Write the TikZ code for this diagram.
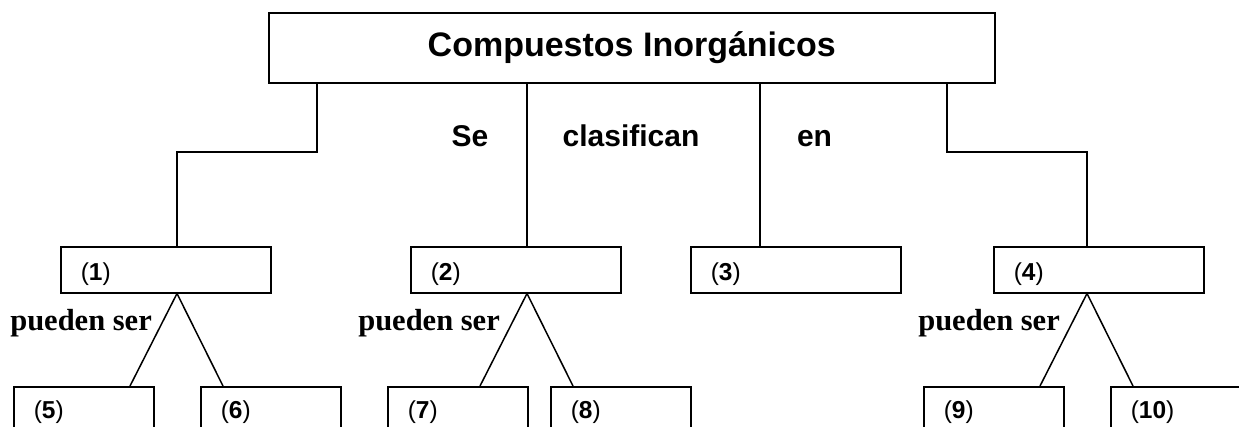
\documentclass[tikz,border=0pt]{standalone}
\usepackage{fontspec}
\setmainfont{Liberation Sans}
\newfontfamily\serifb{Liberation Serif}
\begin{document}
\begin{tikzpicture}[x=1pt,y=-1pt,
  box/.style={draw, line width=1.5pt, inner sep=0pt, anchor=north west},
  titlebox/.style={box, minimum width=726pt, minimum height=70pt,
    font=\fontsize{34}{40}\selectfont\bfseries},
  midbox/.style={box, minimum width=210pt, minimum height=46pt,
    inner xsep=20pt, text width=170pt, align=left,
    text height=22pt, text depth=0pt,
    font=\fontsize{24.5}{28}\selectfont},
  lowbox/.style={box, minimum width=140pt, minimum height=52pt,
    inner xsep=20pt, text width=100pt, align=left,
    text height=12pt, text depth=0pt,
    font=\fontsize{24.5}{28}\selectfont},
  word/.style={inner sep=0pt, anchor=base, font=\fontsize{30}{34}\selectfont\bfseries},
  pword/.style={inner sep=0pt, anchor=east, font=\fontsize{30.5}{34}\selectfont\serifb\bfseries},
  conn/.style={line width=1.5pt}]
\useasboundingbox (0,0) rectangle (1239,426);
\clip (0,0) rectangle (1239,426);

\node[titlebox] (top) at (268,12) {Compuestos Inorgánicos};

\node[midbox] (b1) at (60,246) {(\textbf{1})};
\node[midbox] (b2) at (410,246) {(\textbf{2})};
\node[midbox] (b3) at (690,246) {(\textbf{3})};
\node[midbox] (b4) at (993,246) {(\textbf{4})};

\node[lowbox] (b5) at (13,386) {(\textbf{5})};
\node[lowbox] (b6) at (200,386) {(\textbf{6})};
\node[lowbox] (b7) at (387,386) {(\textbf{7})};
\node[lowbox] (b8) at (550,386) {(\textbf{8})};
\node[lowbox] (b9) at (923,386) {(\textbf{9})};
\node[lowbox] (b10) at (1110,386) {(\textbf{10})};

\node[word] (se) at (470,146) {Se};
\node[word] (clas) at (631,146) {clasifican};
\node[word] (en) at (814.5,146) {en};

\node[pword] (p1) at (152,323) {pueden ser};
\node[pword] (p2) at (500,323) {pueden ser};
\node[pword] (p4) at (1060,323) {pueden ser};

\coordinate (lvl) at (0,152);
\coordinate (t1) at ([xshift=49pt]top.south west);
\coordinate (t2) at ([xshift=259pt]top.south west);
\coordinate (t3) at ([xshift=492pt]top.south west);
\coordinate (t4) at ([xshift=679pt]top.south west);
\coordinate (e1) at ([xshift=117pt]b1.north west);
\coordinate (e2) at ([xshift=117pt]b2.north west);
\coordinate (e3) at ([xshift=70pt]b3.north west);
\coordinate (e4) at ([xshift=94pt]b4.north west);

\draw[conn] (t1) |- (lvl -| e1) -- (e1);
\draw[conn] (t2) -- (e2);
\draw[conn] (t3) -- (e3);
\draw[conn] (t4) |- (lvl -| e4) -- (e4);

\coordinate (a1) at ([xshift=117pt]b1.south west);
\coordinate (a2) at ([xshift=117pt]b2.south west);
\coordinate (a4) at ([xshift=94pt]b4.south west);

\draw[conn] ([xshift=117pt]b5.north west) -- (a1) -- ([xshift=23pt]b6.north west);
\draw[conn] ([xshift=93pt]b7.north west) -- (a2) -- ([xshift=23pt]b8.north west);
\draw[conn] ([xshift=117pt]b9.north west) -- (a4) -- ([xshift=23pt]b10.north west);
\end{tikzpicture}
\end{document}
